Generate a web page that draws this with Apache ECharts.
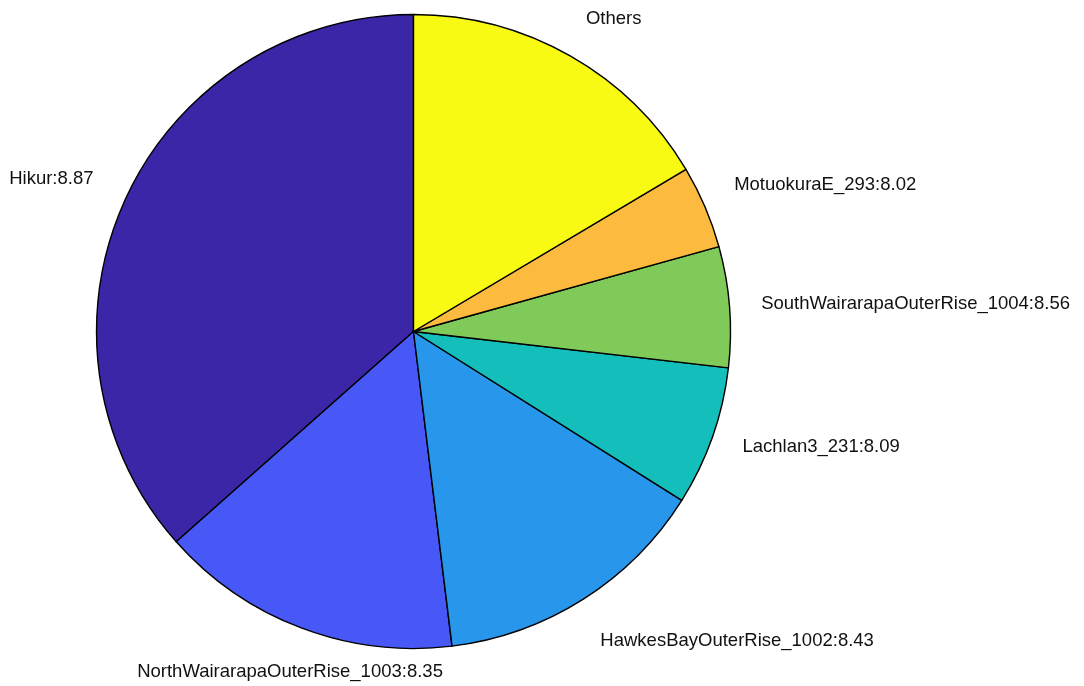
<!DOCTYPE html>
<html>
<head>
<meta charset="utf-8">
<script src="https://cdn.jsdelivr.net/npm/echarts@6/dist/echarts.min.js"></script>
<style>
  html, body { margin: 0; padding: 0; background: #fff; }
  #chart { width: 1084px; height: 686px; }
</style>
</head>
<body>
<div id="chart"></div>
<script>
// ---- data ----
const sliceNames = ['Hikur', 'NorthWairarapaOuterRise_1003', 'HawkesBayOuterRise_1002', 'Lachlan3_231', 'SouthWairarapaOuterRise_1004', 'MotuokuraE_293', 'Others'];
const magnitudes = ['8.87', '8.35', '8.43', '8.09', '8.56', '8.02', null];
const shares = [36.54, 15.40, 14.12, 7.11, 6.14, 4.23, 16.46];
const sliceColors = ['#3c26a8', '#4858f6', '#2896ea', '#14bebb', '#80ca5a', '#fcba3e', '#f8fa14'];

// ---- layout constants ----
const CX = 413.5, CY = 331.5, R = 317;
const total = shares.reduce((a, b) => a + b, 0);
const midAngles = [];
let acc = 0;
shares.forEach(v => {
  midAngles.push(90 + (acc + v / 2) / total * 360);
  acc += v;
});

const labels = sliceNames.map((n, i) => magnitudes[i] ? n + ':' + magnitudes[i] : n);

const chart = echarts.init(document.getElementById('chart'), null, { renderer: 'canvas' });
chart.setOption({
  backgroundColor: '#ffffff',
  animation: false,
  series: [{
    type: 'pie',
    center: [CX, CY],
    radius: R,
    startAngle: 90,
    clockwise: false,
    avoidLabelOverlap: false,
    silent: true,
    emphasis: { disabled: true },
    itemStyle: { borderColor: '#000', borderWidth: 1.4 },
    label: {
      show: true,
      position: 'outside',
      color: '#111',
      fontFamily: 'Liberation Sans, Arial, sans-serif',
      fontSize: 18.5,
      formatter: p => labels[p.dataIndex]
    },
    labelLine: { show: false },
    labelLayout: function (params) {
      const a = midAngles[params.dataIndex] * Math.PI / 180;
      const rl = 1.1 * R;
      const c = Math.cos(a), s = Math.sin(a);
      let x = CX + rl * c, y = CY - rl * s;
      let align = c > 0.4 ? 'left' : (c < -0.4 ? 'right' : 'center');
      let va = 'middle';
      if (s > 0.35) { va = 'bottom'; y -= 0; }
      else if (s < -0.35) { va = 'top'; y += 5; }
      if (align === 'right') { x -= 2; }
      return { x: x, y: y, align: align, verticalAlign: va };
    },
    data: shares.map((v, i) => ({
      name: sliceNames[i],
      value: v,
      itemStyle: { color: sliceColors[i] }
    }))
  }]
});
</script>
</body>
</html>
